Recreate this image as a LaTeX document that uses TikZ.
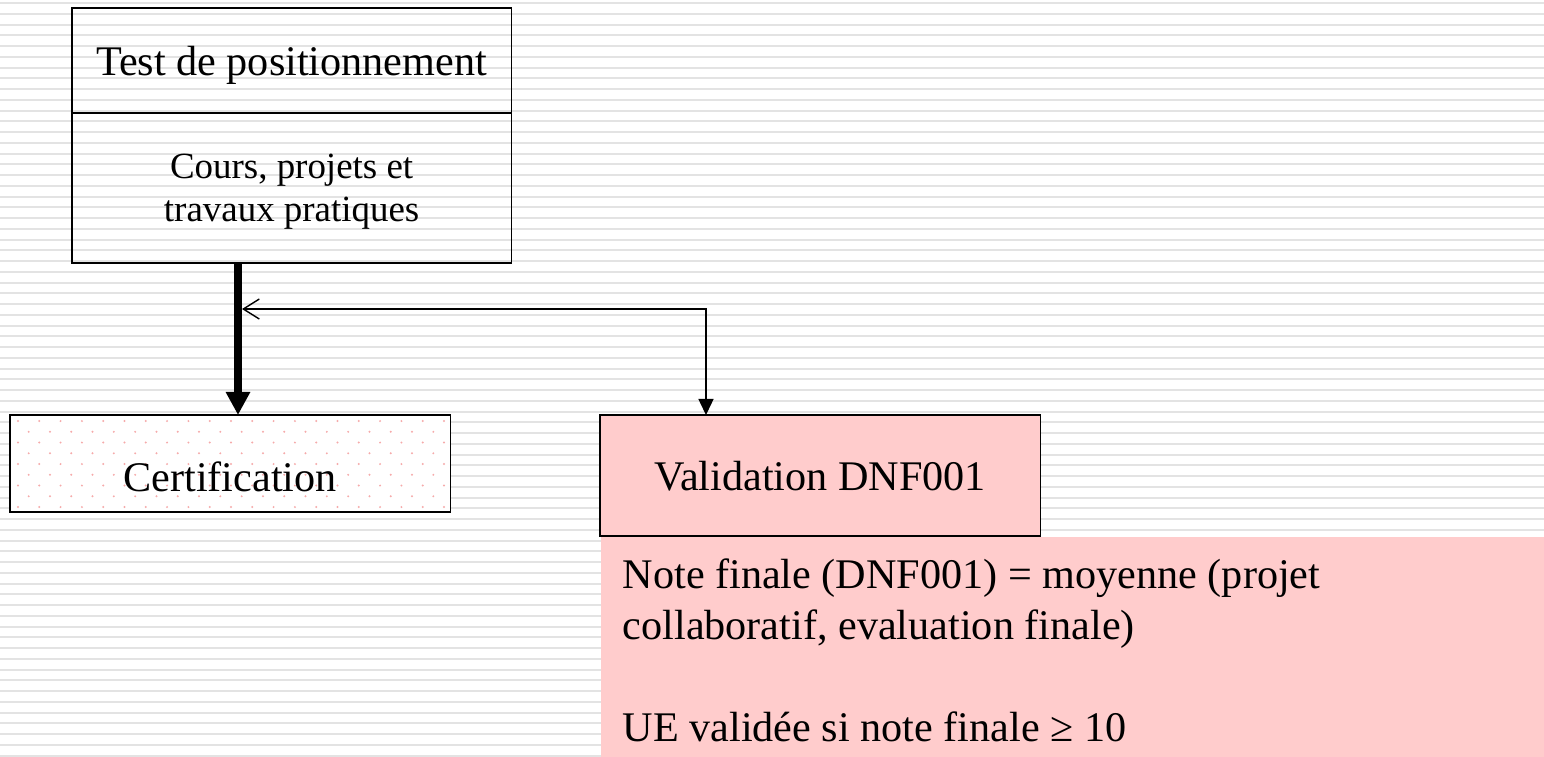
\documentclass[tikz,border=0pt]{standalone}
\usepackage{fontspec}
\setmainfont{Liberation Serif}
\usetikzlibrary{arrows.meta,positioning,calc}
\colorlet{stripeColor}{black!11}
\definecolor{fillPink}{RGB}{255,204,204}
\definecolor{dotPink}{RGB}{246,170,170}
\tikzset{
  box/.style={draw,line width=0.4pt,inner sep=0pt,outer sep=0pt,text depth=0pt,
    font=\fontsize{12}{14.5}\selectfont},
  stripe/.style={stripeColor,line width=0.02cm},
  trunkline/.style={line width=0.08cm,-{Triangle[length=0.23cm,width=0.23cm]}},
  fbline/.style={line width=0.4pt,
    {Triangle[length=0.16cm,width=0.15cm]}-{Straight Barb[length=0.16cm,width=0.2cm]}},
}

\begin{document}
\begin{tikzpicture}[x=0.01cm,y=-0.01cm]
  \useasboundingbox (0,0) rectangle (1544,757);
  % striped background
  \fill[white] (0,0) rectangle (1544,757);
  \foreach \k in {0,...,70}
    \draw[stripe] (0,{3.2+10.75*\k}) -- (1544,{3.2+10.75*\k});

  % top block
  \node[box,anchor=north west,minimum width=4.39cm,minimum height=1.05cm] (test) at (72,8) {Test de positionnement};
  \node[box,anchor=north,minimum width=4.39cm,minimum height=1.5cm,align=center,
    font=\fontsize{10.5}{12.2}\selectfont] (cours) at (test.south) {Cours, projets et\\travaux pratiques};

  % certification, dotted fill
  \node[box,anchor=north west,minimum width=4.4cm,minimum height=0.97cm,fill=white,
    path picture={
      \foreach \j in {0,...,8}
        \foreach \i in {0,...,20}
          \fill[dotPink] ($(path picture bounding box.north west)+({8+21.3*\i+10.65*mod(\j,2)},{6+10.75*\j})$) circle[radius=0.011cm];
    }] (cert) at (10,415) {};
  \node[font=\fontsize{12}{14.5}\selectfont,anchor=base] (certlabel) at (230,491.7) {Certification};

  % validation + note
  \node[anchor=north west,minimum width=9.44cm,minimum height=2.21cm,fill=fillPink,inner sep=0pt] (notebox) at (600,536) {};
  \node[box,anchor=north west,minimum width=4.4cm,minimum height=1.21cm,fill=fillPink] (valid) at (600,415) {Validation DNF001};
  \node[anchor=north west,align=left,inner sep=0pt,font=\fontsize{12}{14.5}\selectfont] (note) at (622,558)
    {Note finale (DNF001) = moyenne (projet\\collaboratif, evaluation finale)\\[14.5pt]UE validée si note finale ≥ 10};

  % connectors
  \coordinate (trunk) at (238,0);
  \coordinate (fb) at (706,309);
  \coordinate (fbend) at (242,309);
  \draw[trunkline] (cours.south -| trunk) -- (cert.north -| trunk);
  \draw[fbline] (valid.north -| fb) -- (fb) -- (fbend);
\end{tikzpicture}
\end{document}
